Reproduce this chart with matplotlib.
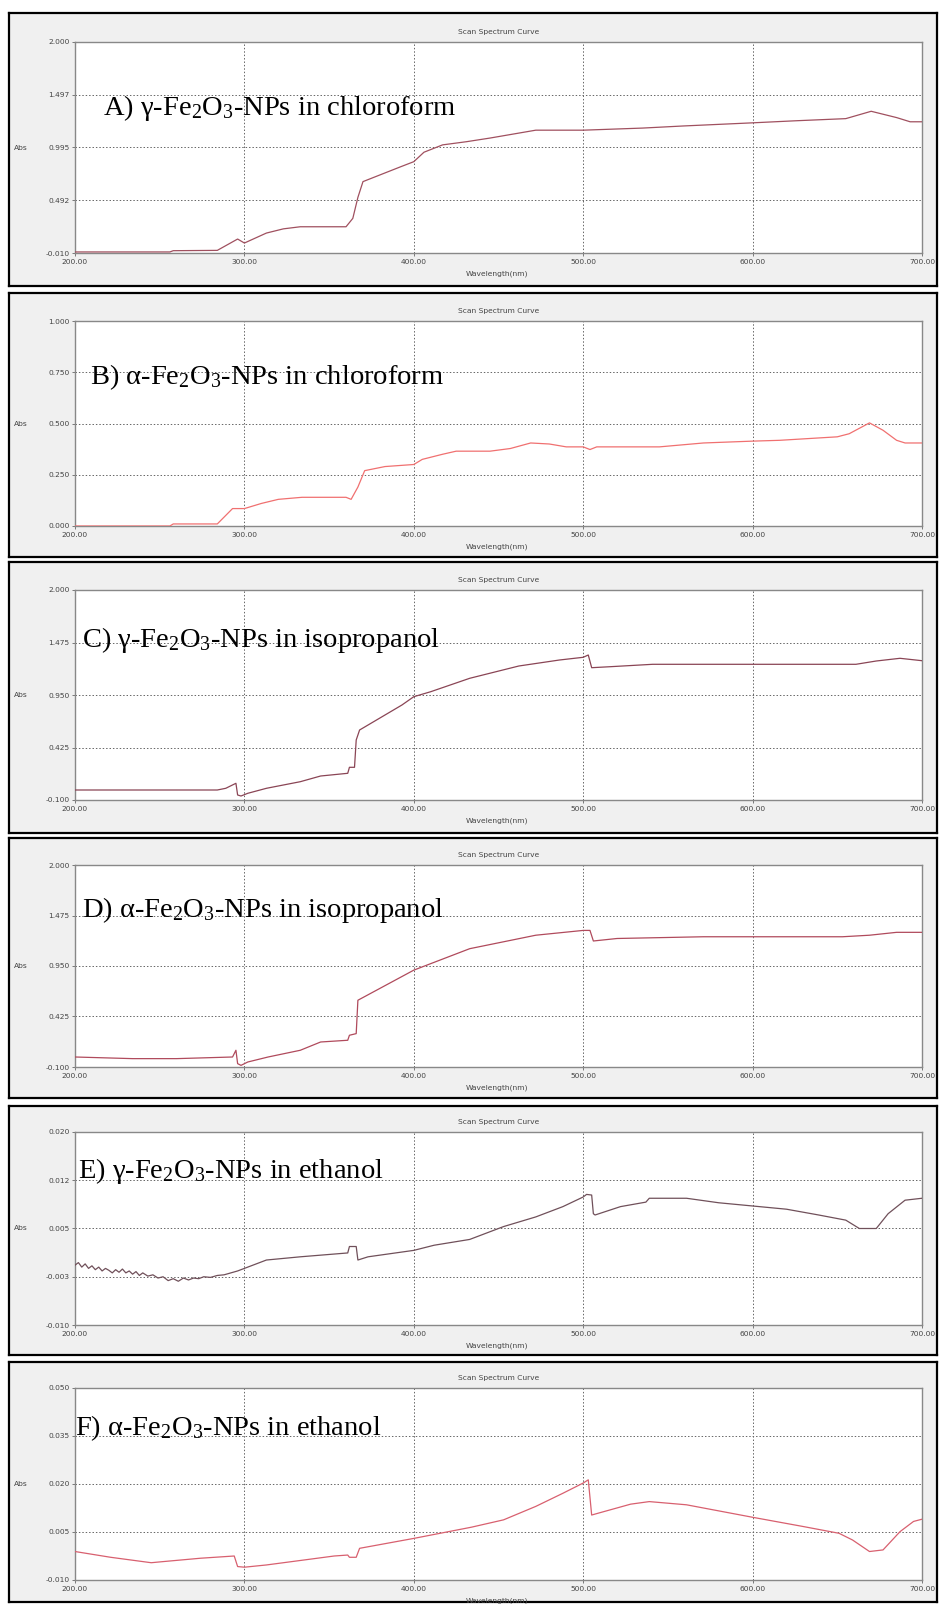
import matplotlib
matplotlib.use("Agg")
import matplotlib.pyplot as plt

plt.rcParams['mathtext.fontset'] = 'custom'
plt.rcParams['mathtext.rm'] = 'Liberation Serif'
plt.rcParams['mathtext.it'] = 'Liberation Serif:italic'
plt.rcParams['font.family'] = ['DejaVu Sans']

# ---------------- data ----------------
x_ticks = [200, 300, 400, 500, 600, 700]
x_tick_labels = ["200.00", "300.00", "400.00", "500.00", "600.00", "700.00"]

labels = [
    r"A) γ-Fe$_\mathrm{2}$O$_\mathrm{3}$-NPs in chloroform",
    r"B) α-Fe$_\mathrm{2}$O$_\mathrm{3}$-NPs in chloroform",
    r"C) γ-Fe$_\mathrm{2}$O$_\mathrm{3}$-NPs in isopropanol",
    r"D) α-Fe$_\mathrm{2}$O$_\mathrm{3}$-NPs in isopropanol",
    r"E) γ-Fe$_\mathrm{2}$O$_\mathrm{3}$-NPs in ethanol",
    r"F) α-Fe$_\mathrm{2}$O$_\mathrm{3}$-NPs in ethanol",
]

yticks_A = [-0.010, 0.492, 0.995, 1.497, 2.000]
yticks_B = [0.000, 0.250, 0.500, 0.750, 1.000]
yticks_C = [-0.100, 0.425, 0.950, 1.475, 2.000]
yticks_D = [-0.100, 0.425, 0.950, 1.475, 2.000]
yticks_E = [-0.010, -0.0025, 0.005, 0.0125, 0.020]
yticks_F = [-0.010, 0.005, 0.020, 0.035, 0.050]

ylabels_A = ["-0.010", "0.492", "0.995", "1.497", "2.000"]
ylabels_B = ["0.000", "0.250", "0.500", "0.750", "1.000"]
ylabels_C = ["-0.100", "0.425", "0.950", "1.475", "2.000"]
ylabels_D = ["-0.100", "0.425", "0.950", "1.475", "2.000"]
ylabels_E = ["-0.010", "-0.003", "0.005", "0.012", "0.020"]
ylabels_F = ["-0.010", "0.005", "0.020", "0.035", "0.050"]

wl_A = [200, 256, 258, 284, 296, 300, 313, 323, 333, 360, 364, 367, 370, 392, 400,
        406, 417, 431, 445, 472, 500, 535, 559, 600, 626, 655, 670, 685, 693, 700]
abs_A = [0.0, 0.0, 0.012, 0.015, 0.123, 0.085, 0.18, 0.22, 0.24, 0.24, 0.32, 0.52, 0.67,
         0.81, 0.86, 0.95, 1.02, 1.05, 1.085, 1.16, 1.16, 1.18, 1.20, 1.23, 1.25, 1.27,
         1.34, 1.28, 1.24, 1.24]

wl_B = [200, 256, 258, 284, 293, 300, 310, 320, 334, 360, 363, 367, 371, 383, 400, 405,
        417, 425, 445, 457, 469, 480, 490, 500, 504, 508, 545, 571, 600, 616, 650, 657,
        669, 677, 685, 690, 700]
abs_B = [0.0, 0.0, 0.01, 0.01, 0.085, 0.085, 0.11, 0.13, 0.14, 0.14, 0.13, 0.19, 0.27,
         0.29, 0.30, 0.325, 0.35, 0.365, 0.365, 0.378, 0.405, 0.40, 0.386, 0.386, 0.373,
         0.386, 0.386, 0.405, 0.414, 0.418, 0.435, 0.45, 0.503, 0.467, 0.418, 0.405, 0.405]

wl_C = [200, 284, 289, 295, 296, 298, 302, 313, 333, 345, 361, 362, 365, 366, 368, 393,
        400, 410, 433, 462, 486, 500, 503, 505, 516, 541, 600, 661, 673, 687, 700]
abs_C = [0.0, 0.0, 0.017, 0.067, -0.05, -0.06, -0.033, 0.017, 0.083, 0.14, 0.167, 0.227,
         0.227, 0.50, 0.60, 0.85, 0.933, 0.983, 1.117, 1.24, 1.30, 1.327, 1.35, 1.223,
         1.233, 1.257, 1.257, 1.257, 1.29, 1.317, 1.293]

wl_D = [200, 234, 260, 293, 295, 296, 298, 302, 314, 333, 345, 361, 362, 366, 367, 400,
        433, 472, 500, 504, 506, 520, 571, 600, 653, 669, 685, 700]
abs_D = [0.004, -0.013, -0.013, 0.004, 0.074, -0.065, -0.083, -0.048, 0.004, 0.074, 0.16,
         0.178, 0.23, 0.247, 0.594, 0.907, 1.13, 1.27, 1.32, 1.32, 1.21, 1.236, 1.254,
         1.254, 1.254, 1.27, 1.30, 1.30]

wl_E = [200, 202, 204, 206, 208, 210, 212, 214, 216, 218, 220, 222, 224, 226, 228, 230,
        232, 234, 236, 238, 240, 243, 246, 249, 252, 255, 258, 261, 264, 267, 270, 273,
        276, 280, 284, 288, 292, 296, 300, 313, 333, 361, 362, 366, 367, 373, 400, 412,
        433, 453, 472, 488, 500, 502, 505, 506, 507, 522, 537, 539, 561, 580, 600, 620,
        639, 655, 663, 673, 680, 690, 700]
abs_E = [-0.0007, -0.0003, -0.0010, -0.0005, -0.0012, -0.0008, -0.0014, -0.0010, -0.0016,
         -0.0012, -0.0015, -0.0019, -0.0014, -0.0018, -0.0013, -0.0019, -0.0016, -0.0021,
         -0.0017, -0.0023, -0.0019, -0.0024, -0.0022, -0.0027, -0.0025, -0.0031, -0.0028,
         -0.0032, -0.0027, -0.0030, -0.0027, -0.0028, -0.0025, -0.0026, -0.0023, -0.0022,
         -0.0019, -0.0016, -0.0012, 0.0001, 0.0006, 0.0012, 0.0022, 0.0022, 0.0001,
         0.0006, 0.0016, 0.0024, 0.0033, 0.0053, 0.0068, 0.0084, 0.0099, 0.0103, 0.0102,
         0.0073, 0.0071, 0.0084, 0.0091, 0.0097, 0.0097, 0.0090, 0.0085, 0.0080, 0.0071,
         0.0063, 0.0050, 0.0050, 0.0073, 0.0094, 0.0097]

wl_F = [200, 221, 245, 251, 274, 294, 296, 300, 313, 353, 361, 362, 366, 368, 400, 434,
        453, 472, 488, 500, 503, 505, 509, 528, 539, 561, 600, 630, 651, 659, 669, 677,
        687, 695, 700]
abs_F = [-0.0011, -0.0029, -0.0046, -0.0043, -0.0032, -0.0025, -0.0058, -0.0060, -0.0053,
         -0.0025, -0.0022, -0.0029, -0.0029, -0.0001, 0.0030, 0.0065, 0.0088, 0.0130,
         0.0171, 0.0203, 0.0213, 0.0103, 0.0109, 0.0137, 0.0145, 0.0135, 0.0096, 0.0067,
         0.0046, 0.0025, -0.0011, -0.0006, 0.0051, 0.0083, 0.0090]

# ---------------- layout (pixels) ----------------
W, H = 939, 1604
fig = plt.figure(figsize=(W / 100, H / 100), dpi=100)
fig.patch.set_facecolor('white')

boxes = [(13, 286), (293, 557), (562, 833), (838, 1098), (1106, 1355), (1362, 1602)]
plots = [(42, 253), (321, 526), (590, 800), (865, 1067), (1132, 1325), (1388, 1580)]
label_pos = [(103, 115), (90, 384), (82, 647), (82, 917), (78, 1178), (75, 1435)]
plot_left, plot_right = 75, 922
box_left, box_right = 9, 937

series = [
    (wl_A, abs_A, yticks_A, ylabels_A, "#a0505f"),
    (wl_B, abs_B, yticks_B, ylabels_B, "#f07070"),
    (wl_C, abs_C, yticks_C, ylabels_C, "#8a4555"),
    (wl_D, abs_D, yticks_D, ylabels_D, "#b04a5c"),
    (wl_E, abs_E, yticks_E, ylabels_E, "#70505a"),
    (wl_F, abs_F, yticks_F, ylabels_F, "#d8606f"),
]

small = dict(fontsize=5.4, color='#444444')

for i, ((wl, ab, yt, yl, col), (bt, bb), (pt, pb), (lx, ly), lab) in enumerate(
        zip(series, boxes, plots, label_pos, labels)):
    bg = fig.add_axes([box_left / W, 1 - bb / H, (box_right - box_left) / W, (bb - bt) / H],
                      zorder=-5)
    bg.set_facecolor('#f0f0f0')
    bg.set_xticks([])
    bg.set_yticks([])
    for s in bg.spines.values():
        s.set_color('black')
        s.set_linewidth(1.6)
    ax = fig.add_axes([plot_left / W, 1 - pb / H, (plot_right - plot_left) / W, (pb - pt) / H],
                      zorder=1)
    ax.set_facecolor('white')
    ax.plot(wl, ab, color=col, linewidth=0.9, zorder=3)
    ax.set_xlim(200, 700)
    ax.set_ylim(yt[0], yt[-1])
    ax.set_xticks(x_ticks)
    ax.set_xticklabels(x_tick_labels, **small)
    ax.set_yticks(yt)
    ax.set_yticklabels(yl, **small)
    ax.tick_params(length=2, width=0.6, color='#666666', pad=2)
    ax.grid(True, linestyle=(0, (1.5, 2)), color='#666666', linewidth=0.7)
    for s in ax.spines.values():
        s.set_color('#888888')
        s.set_linewidth(1.0)
    ax.set_title("Scan Spectrum Curve", fontsize=5.4, color='#444444', pad=6)
    fig.text(497 / W, 1 - (pb + 21) / H, "Wavelength(nm)", ha='center', va='center', **small)
    fig.text(14 / W, 1 - ((pt + pb) / 2) / H, "Abs", ha='left', va='center', **small)
    fig.text(lx / W, 1 - ly / H, lab, ha='left', va='baseline',
             fontfamily='Liberation Serif', fontsize=20.5, color='black', zorder=10)

fig.savefig("out.png", dpi=100, facecolor='white')
